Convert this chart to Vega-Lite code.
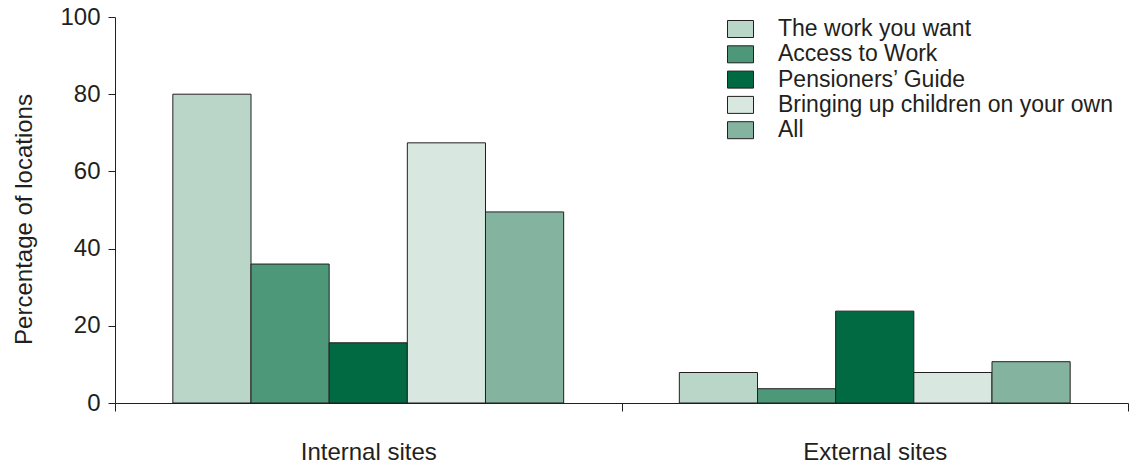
{
  "$schema": "https://vega.github.io/schema/vega-lite/v6.json",
  "autosize": "none",
  "width": 1013,
  "height": 386,
  "padding": {"left": 115, "top": 17, "right": 6, "bottom": 62},
  "background": "white",
  "config": {
    "view": {"stroke": null},
    "font": "Liberation Sans",
    "axis": {"labelFont": "Liberation Sans", "titleFont": "Liberation Sans", "labelColor": "#231f20", "titleColor": "#231f20", "domainColor": "#231f20", "tickColor": "#231f20", "grid": false},
    "legend": {"labelFont": "Liberation Sans"}
  },
  "data": {
    "values": [
      {"site": "Internal sites", "guide": "The work you want", "pct": 80},
      {"site": "Internal sites", "guide": "Access to Work", "pct": 36},
      {"site": "Internal sites", "guide": "Pensioners’ Guide", "pct": 15.6},
      {"site": "Internal sites", "guide": "Bringing up children on your own", "pct": 67.4},
      {"site": "Internal sites", "guide": "All", "pct": 49.5},
      {"site": "External sites", "guide": "The work you want", "pct": 7.9},
      {"site": "External sites", "guide": "Access to Work", "pct": 3.7},
      {"site": "External sites", "guide": "Pensioners’ Guide", "pct": 23.8},
      {"site": "External sites", "guide": "Bringing up children on your own", "pct": 7.9},
      {"site": "External sites", "guide": "All", "pct": 10.7}
    ]
  },
  "mark": {"type": "bar", "stroke": "#231f20", "strokeWidth": 1},
  "encoding": {
    "x": {
      "field": "site", "type": "nominal",
      "sort": ["Internal sites", "External sites"],
      "scale": {"paddingInner": 0, "paddingOuter": 0},
      "axis": {"title": null, "labelAngle": 0, "labelFontSize": 24, "labelPadding": 29, "tickSize": 8, "tickBand": "extent", "labelBaseline": "top", "domainWidth": 1, "tickWidth": 1}
    },
    "xOffset": {
      "field": "guide", "type": "nominal",
      "sort": ["The work you want", "Access to Work", "Pensioners’ Guide", "Bringing up children on your own", "All"],
      "scale": {"paddingInner": 0, "paddingOuter": 0.74}
    },
    "y": {
      "field": "pct", "type": "quantitative",
      "scale": {"domain": [0, 100], "nice": false},
      "axis": {"title": "Percentage of locations", "values": [0, 20, 40, 60, 80, 100], "labelFontSize": 24, "titleFontSize": 24, "titleFontWeight": "normal", "tickSize": 7, "labelPadding": 8, "titleX": -84, "titleY": 202, "titleAngle": -90, "titleAlign": "center", "titleBaseline": "alphabetic", "domainWidth": 1, "tickWidth": 1}
    },
    "color": {
      "field": "guide", "type": "nominal",
      "sort": ["The work you want", "Access to Work", "Pensioners’ Guide", "Bringing up children on your own", "All"],
      "scale": {"domain": ["The work you want", "Access to Work", "Pensioners’ Guide", "Bringing up children on your own", "All"], "range": ["#bad6c9", "#4c9879", "#016a42", "#d8e7e0", "#84b4a0"]},
      "legend": {
        "title": null, "orient": "none", "legendX": 614, "legendY": 0.5, "padding": 0,
        "symbolType": "M-2,-1.308H2V1.308H-2Z", "symbolSize": 169, "symbolStrokeColor": "#231f20", "symbolStrokeWidth": 1, "symbolOpacity": 1,
        "labelFontSize": 23, "labelColor": "#231f20", "labelOffset": 26, "rowPadding": 1.3, "labelLimit": 500
      }
    }
  }
}
